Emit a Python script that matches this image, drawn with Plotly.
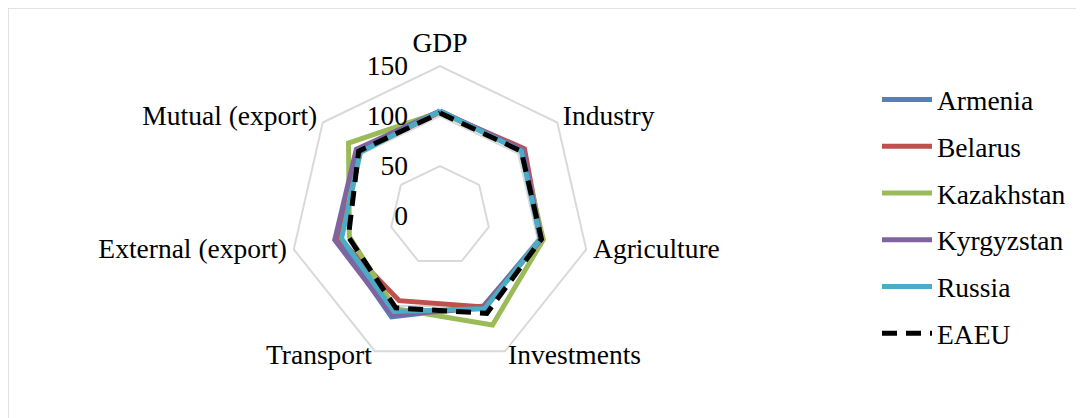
import plotly.graph_objects as go

categories = ["GDP", "Industry", "Agriculture", "Investments", "Transport",
              "External (export)", "Mutual (export)"]
armenia    = [105, 105, 103, 100, 112, 105, 104]
belarus    = [104, 108, 104, 101, 94, 103, 103]
kazakhstan = [104, 105, 106, 121, 103, 93, 117]
kyrgyzstan = [105, 106, 104, 102, 110, 108, 107]
russia     = [105, 104, 103, 103, 106, 101, 102]
eaeu       = [103, 104, 104, 108, 102, 94, 104]
radial_ticks = [0, 50, 100, 150]
label_positions = ["top center", "middle right", "middle right", "middle right",
                   "middle left", "middle left", "middle left"]
LABEL_R = 157

series = [
    ("Armenia", armenia, "#4F81BD", "solid"),
    ("Belarus", belarus, "#C0504D", "solid"),
    ("Kazakhstan", kazakhstan, "#9BBB59", "solid"),
    ("Kyrgyzstan", kyrgyzstan, "#8064A2", "solid"),
    ("Russia", russia, "#4BACC6", "solid"),
    ("EAEU", eaeu, "#000000", "15px,9px"),
]

W, H = 1084, 418
FONT = "Liberation Serif"
FS = 27.5

fig = go.Figure()
for i, (name, vals, color, dash) in enumerate(series):
    fig.add_trace(go.Scatterpolar(
        r=vals + vals[:1], theta=categories + categories[:1],
        mode="lines", name=name, legendgroup=f"g{i}",
        line=dict(color=color, width=5, dash=dash),
    ))

# category labels placed just outside the outer grid polygon (value 150)
fig.add_trace(go.Scatterpolar(
    r=[LABEL_R] * len(categories), theta=categories,
    mode="text", text=categories, textposition=label_positions,
    textfont=dict(family=FONT, size=FS, color="black"),
    cliponaxis=False, showlegend=False, hoverinfo="skip",
))

cx, cy = 432, 208
R = 150 * LABEL_R / radial_ticks[-1]   # pixel radius of the full radial range
fig.update_layout(
    width=W, height=H,
    margin=dict(l=0, r=0, t=0, b=0),
    paper_bgcolor="white",
    font=dict(family=FONT, size=FS, color="black"),
    polar=dict(
        domain=dict(x=[(cx - R) / W, (cx + R) / W],
                    y=[1 - (cy + R) / H, 1 - (cy - R) / H]),
        bgcolor="white",
        gridshape="linear",
        angularaxis=dict(
            direction="clockwise", rotation=90,
            showgrid=False, showline=False,
            ticks="", showticklabels=False,
        ),
        radialaxis=dict(
            range=[0, LABEL_R], tickvals=radial_ticks, angle=90, tickangle=90,
            side="counterclockwise",
            showline=False, gridcolor="#D9D9D9", gridwidth=1.5,
            ticks="outside", ticklen=22, tickcolor="rgba(0,0,0,0)",
            tickfont=dict(family=FONT, size=FS),
        ),
    ),
    legend=dict(
        x=869 / W, y=1 - 67 / H, xanchor="left", yanchor="top",
        font=dict(family=FONT, size=FS), tracegroupgap=8,
        itemwidth=50, bgcolor="rgba(0,0,0,0)",
    ),
    shapes=[dict(type="rect", xref="paper", yref="paper",
                 x0=0, x1=1.05, y0=-0.05, y1=1,
                 line=dict(color="#D9D9D9", width=1.5))],
)

fig.write_html("out.html")
